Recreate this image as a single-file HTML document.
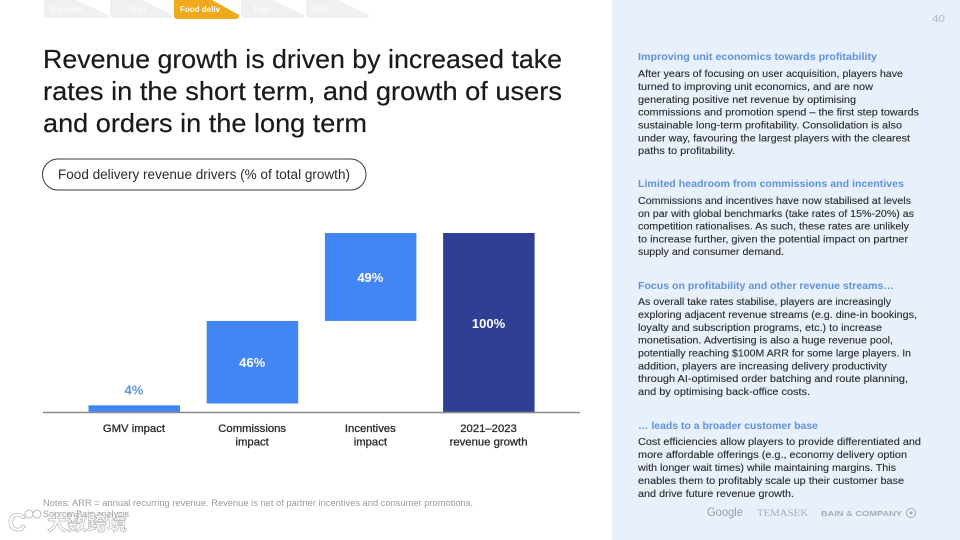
<!DOCTYPE html>
<html lang="en">
<head>
<meta charset="utf-8">
<title>Food delivery revenue drivers</title>
<style>
html,body{margin:0;padding:0;background:#fff}
svg{display:block}
text{font-family:"Liberation Sans","Noto Sans CJK SC",sans-serif}
.t{font-size:26px;fill:#1a1a1a;stroke:#1a1a1a;stroke-width:.2px}
.h{font-size:10.5px;font-weight:700;fill:#5f92dc}
.b{font-size:10.5px;fill:#2b2b2b;stroke:#2b2b2b;stroke-width:.12px}
.tab{font-size:8px;font-weight:700;fill:#fff}
.f{font-size:8.8px;fill:#9a9a9a}
</style>
</head>
<body>
<svg id="slide" xmlns="http://www.w3.org/2000/svg" width="960" height="540" viewBox="0 0 960 540">
<rect width="960" height="540" fill="#fff"/>
<rect x="612" y="0" width="348" height="540" fill="#e8f0fc"/>
<text x="932" y="22" font-size="10.5" fill="#b0b8c4" textLength="13" lengthAdjust="spacingAndGlyphs">40</text>

<g>
<g><polygon points="44,0 76,0 108,15 108,18 46,18 44,16" fill="#f0f0f0"/><text class="tab" x="51" y="12" opacity=".7">E-comm</text></g>
<g><polygon points="110,0 142,0 172,15 172,18 112,18 110,16" fill="#f0f0f0"/><text class="tab" x="129" y="12" opacity=".7">Tran</text></g>
<g><polygon points="174,0 212,0 239,15 239,17 237,19 176,19 174,17" fill="#f0a81c"/><text class="tab" x="180" y="12" textLength="40" lengthAdjust="spacingAndGlyphs">Food deliv</text></g>
<g><polygon points="241,0 272,0 304,15 304,18 243,18 241,16" fill="#f0f0f0"/><text class="tab" x="253" y="12" opacity=".7">Trav</text></g>
<g><polygon points="306,0 338,0 369,15 369,18 308,18 306,16" fill="#f0f0f0"/><text class="tab" x="312" y="12" opacity=".7">Onli</text></g>
</g>

<g>
<text class="t" x="43" y="68" textLength="519" lengthAdjust="spacingAndGlyphs">Revenue growth is driven by increased take</text>
<text class="t" x="43" y="100" textLength="519" lengthAdjust="spacingAndGlyphs">rates in the short term, and growth of users</text>
<text class="t" x="43" y="132" textLength="324" lengthAdjust="spacingAndGlyphs">and orders in the long term</text>
</g>

<g>
<rect x="42.5" y="159" width="323.5" height="31" rx="15.5" fill="#fff" stroke="#3a3a3a" stroke-width="1"/>
<text x="58" y="179" font-size="13.5" fill="#2b2b2b" textLength="292" lengthAdjust="spacingAndGlyphs">Food delivery revenue drivers (% of total growth)</text>
</g>

<g id="chart"></g>

<g>
<text class="f" x="43" y="506" textLength="430" lengthAdjust="spacingAndGlyphs">Notes: ARR = annual recurring revenue. Revenue is net of partner incentives and consumer promotions.</text>
<text class="f" x="43" y="517" textLength="86" lengthAdjust="spacingAndGlyphs">Source: Bain analysis</text>
</g>

<g opacity=".9">
<text x="8" y="531" font-size="25" font-weight="700" fill="#fff" stroke="#b5b5b5" stroke-width=".8" textLength="18" lengthAdjust="spacingAndGlyphs">C</text>
<circle cx="29" cy="514" r="4" fill="#fff" stroke="#b5b5b5"/>
<circle cx="37" cy="514" r="4" fill="#fff" stroke="#b5b5b5"/>
<text x="47" y="530" font-size="20" font-weight="700" fill="#fff" stroke="#b0b0b0" stroke-width=".7" textLength="80" lengthAdjust="spacingAndGlyphs">大数跨境</text>
</g>

<g>
<text class="h" x="638" y="60" textLength="239" lengthAdjust="spacingAndGlyphs">Improving unit economics towards profitability</text>
<text class="b" x="638" y="77" textLength="265" lengthAdjust="spacingAndGlyphs">After years of focusing on user acquisition, players have</text>
<text class="b" x="638" y="90" textLength="235" lengthAdjust="spacingAndGlyphs">turned to improving unit economics, and are now</text>
<text class="b" x="638" y="103" textLength="218" lengthAdjust="spacingAndGlyphs">generating positive net revenue by optimising</text>
<text class="b" x="638" y="115.5" textLength="281" lengthAdjust="spacingAndGlyphs">commissions and promotion spend – the first step towards</text>
<text class="b" x="638" y="128.5" textLength="264" lengthAdjust="spacingAndGlyphs">sustainable long-term profitability. Consolidation is also</text>
<text class="b" x="638" y="141.5" textLength="272" lengthAdjust="spacingAndGlyphs">under way, favouring the largest players with the clearest</text>
<text class="b" x="638" y="154" textLength="97" lengthAdjust="spacingAndGlyphs">paths to profitability.</text>
</g>

<g>
<text class="h" x="638" y="187" textLength="266" lengthAdjust="spacingAndGlyphs">Limited headroom from commissions and incentives</text>
<text class="b" x="638" y="204" textLength="273" lengthAdjust="spacingAndGlyphs">Commissions and incentives have now stabilised at levels</text>
<text class="b" x="638" y="217" textLength="276" lengthAdjust="spacingAndGlyphs">on par with global benchmarks (take rates of 15%-20%) as</text>
<text class="b" x="638" y="229.5" textLength="271" lengthAdjust="spacingAndGlyphs">competition rationalises. As such, these rates are unlikely</text>
<text class="b" x="638" y="242.5" textLength="270" lengthAdjust="spacingAndGlyphs">to increase further, given the potential impact on partner</text>
<text class="b" x="638" y="255" textLength="146" lengthAdjust="spacingAndGlyphs">supply and consumer demand.</text>
</g>

<g>
<text class="h" x="638" y="289" textLength="256" lengthAdjust="spacingAndGlyphs">Focus on profitability and other revenue streams…</text>
<text class="b" x="638" y="305" textLength="253" lengthAdjust="spacingAndGlyphs">As overall take rates stabilise, players are increasingly</text>
<text class="b" x="638" y="318" textLength="279" lengthAdjust="spacingAndGlyphs">exploring adjacent revenue streams (e.g. dine-in bookings,</text>
<text class="b" x="638" y="331" textLength="244" lengthAdjust="spacingAndGlyphs">loyalty and subscription programs, etc.) to increase</text>
<text class="b" x="638" y="343.5" textLength="255" lengthAdjust="spacingAndGlyphs">monetisation. Advertising is also a huge revenue pool,</text>
<text class="b" x="638" y="356.5" textLength="273" lengthAdjust="spacingAndGlyphs">potentially reaching $100M ARR for some large players. In</text>
<text class="b" x="638" y="369.5" textLength="249" lengthAdjust="spacingAndGlyphs">addition, players are increasing delivery productivity</text>
<text class="b" x="638" y="382" textLength="270" lengthAdjust="spacingAndGlyphs">through AI-optimised order batching and route planning,</text>
<text class="b" x="638" y="395" textLength="172" lengthAdjust="spacingAndGlyphs">and by optimising back-office costs.</text>
</g>

<g>
<text class="h" x="638" y="429" textLength="180" lengthAdjust="spacingAndGlyphs">… leads to a broader customer base</text>
<text class="b" x="638" y="445" textLength="283" lengthAdjust="spacingAndGlyphs">Cost efficiencies allow players to provide differentiated and</text>
<text class="b" x="638" y="458" textLength="269" lengthAdjust="spacingAndGlyphs">more affordable offerings (e.g., economy delivery option</text>
<text class="b" x="638" y="471" textLength="258" lengthAdjust="spacingAndGlyphs">with longer wait times) while maintaining margins. This</text>
<text class="b" x="638" y="484" textLength="266" lengthAdjust="spacingAndGlyphs">enables them to profitably scale up their customer base</text>
<text class="b" x="638" y="497" textLength="156" lengthAdjust="spacingAndGlyphs">and drive future revenue growth.</text>
</g>

<g>
<text x="707" y="516" font-size="12" fill="#9a9fa8" textLength="36" lengthAdjust="spacingAndGlyphs">Google</text>
<text x="757" y="516" font-size="9" fill="#a8adb6" style="font-family:'Liberation Serif',serif" textLength="51" lengthAdjust="spacingAndGlyphs">TEMASEK</text>
<text x="821" y="516" font-size="7.5" font-weight="700" fill="#a8adb6" textLength="81" lengthAdjust="spacingAndGlyphs">BAIN &amp; COMPANY</text>
<circle cx="911" cy="513" r="4.6" fill="none" stroke="#a8adb6" stroke-width="1"/>
<circle cx="911" cy="513" r="1.5" fill="#a8adb6"/>
</g>
</svg>
<script>
const categories = [["GMV impact"], ["Commissions", "impact"], ["Incentives", "impact"], ["2021–2023", "revenue growth"]];
const values = [4, 46, 49, 100];
const valueLabels = ["4%", "46%", "49%", "100%"];

const NS = "http://www.w3.org/2000/svg";
const chart = document.getElementById("chart");
const baselineY = 412.5, unit = 1.795, firstX = 88.5, step = 118.2, barW = 91.5;
const yAxis = v => baselineY - v * unit;
const xAxis = i => firstX + i * step;
function make(tag, attrs, parent) {
  const el = document.createElementNS(NS, tag);
  for (const k in attrs) el.setAttribute(k, attrs[k]);
  parent.appendChild(el);
  return el;
}
/* Waterfall is anchored to the total: each step ends where the next begins,
   and the rounding slack sits between the first two steps. */
const lastIndex = values.length - 1;
const bases = values.map(() => 0);
let running = values[lastIndex];
for (let i = lastIndex - 1; i >= 1; i--) {
  running -= values[i];
  bases[i] = running;
}
values.forEach((v, i) => {
  const top = yAxis(bases[i] + v), bottom = yAxis(bases[i]);
  const isTotal = i === lastIndex;
  const bar = make("rect", { x: xAxis(i), y: top, width: barW, height: bottom - top + (isTotal ? 0.6 : 0), fill: isTotal ? "#2e3f95" : "#4285f4" }, chart);
  
  
  const outside = bottom - top < 20;
  const label = make("text", { x: xAxis(i) + barW / 2 - 0.3, y: outside ? top - 10.8 : (top + bottom) / 2 + 5, "text-anchor": "middle", "font-size": "13", "font-weight": "700", fill: outside ? "#5f92dc" : "#ffffff" }, chart);
  
  
  label.textContent = valueLabels[i];
  categories[i].forEach((line, n) => {
    const cat = make("text", { x: xAxis(i) + barW / 2 - 0.3, y: 432 + n * 13.5, "text-anchor": "middle", "font-size": "11.3", fill: "#2b2b2b", stroke: "#2b2b2b", "stroke-width": "0.3" }, chart);
    
    
    cat.textContent = line;
  });
});
const axis = make("line", { x1: 43, x2: 580, y1: baselineY, y2: baselineY, stroke: "#8a8a8a", "stroke-width": "1.4" }, chart);


</script>
</body>
</html>
